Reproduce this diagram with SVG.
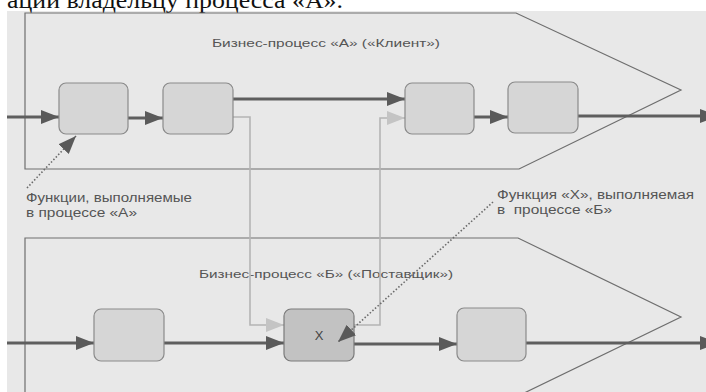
<svg xmlns="http://www.w3.org/2000/svg" width="706" height="392" viewBox="0 0 706 392">
<style>
.frame{fill:none;stroke:#6e6e6e;stroke-width:1.2}
.box{fill:#d6d6d6;stroke:#8a8a8a;stroke-width:1.2}
.boxx{fill:#c2c2c2;stroke:#7a7a7a;stroke-width:1.2}
.main{fill:none;stroke:#5e5e5e;stroke-width:3}
.aux{fill:none;stroke:#b4b4b4;stroke-width:1.6}
.dot{fill:none;stroke:#6a6a6a;stroke-width:1.6;stroke-dasharray:1.5 2}
.lbl{font-family:"Liberation Sans",Arial,sans-serif;font-size:11.5px;fill:#555}
.note{font-family:"Liberation Sans",Arial,sans-serif;font-size:12px;fill:#555}
.xl{font-family:"Liberation Sans",Arial,sans-serif;font-size:13px;fill:#444}
.page{font-family:"Liberation Serif","Times New Roman",serif;font-size:23px;fill:#111}
</style>
<defs>
<marker id="ah" viewBox="0 0 18 14" refX="18" refY="7" markerWidth="18" markerHeight="14" markerUnits="userSpaceOnUse" orient="auto"><path d="M0,0 L18,7 L0,14 Z" fill="#5a5a5a"/></marker>
<marker id="al" viewBox="0 0 18 14" refX="18" refY="7" markerWidth="18" markerHeight="14" markerUnits="userSpaceOnUse" orient="auto"><path d="M0,0 L18,7 L0,14 Z" fill="#c4c4c4"/></marker>
<marker id="ad" viewBox="0 0 18 14" refX="18" refY="7" markerWidth="18" markerHeight="14" markerUnits="userSpaceOnUse" orient="auto"><path d="M0,0 L18,7 L0,14 Z" fill="#5a5a5a"/></marker>
</defs>
<rect x="0" y="0" width="706" height="392" fill="#ffffff"/>
<rect x="7" y="11" width="699" height="381" fill="#e8e8e8"/>
<text class="page" x="7" y="8" textLength="336" lengthAdjust="spacingAndGlyphs">ации владельцу процесса «А».</text>

<g id="processA">
<path class="frame" d="M25,13 L516,13 L681,90 L519,169 L25,169 Z"/>
<text class="lbl" x="212" y="47" textLength="228" lengthAdjust="spacingAndGlyphs">Бизнес-процесс «А» («Клиент»)</text>
</g>
<g id="processB">
<path class="frame" d="M25,238 L518,238 L681,317 L518,396 L25,396 Z"/>
<text class="lbl" x="199" y="278" textLength="254" lengthAdjust="spacingAndGlyphs">Бизнес-процесс «Б» («Поставщик»)</text>
</g>

<g id="connectors">
<path class="aux" d="M233,117 H250 V325 H284" marker-end="url(#al)"/>
<path class="aux" d="M354,325 H380 V118 H405" marker-end="url(#al)"/>
<path class="main" d="M7,117 H59" marker-end="url(#ah)"/>
<path class="main" d="M128,118 H163" marker-end="url(#ah)"/>
<path class="main" d="M233,99 H405" marker-end="url(#ah)"/>
<path class="main" d="M474,117 H508" marker-end="url(#ah)"/>
<path class="main" d="M578,116 H718" marker-end="url(#ah)"/>
<path class="main" d="M7,343 H94" marker-end="url(#ah)"/>
<path class="main" d="M164,343 H284" marker-end="url(#ah)"/>
<path class="main" d="M354,344 H457" marker-end="url(#ah)"/>
<path class="main" d="M526,343 H718" marker-end="url(#ah)"/>
</g>

<g id="a1"><rect class="box" x="59" y="83" width="69" height="51" rx="7"/></g>
<g id="a2"><rect class="box" x="163" y="83" width="70" height="51" rx="7"/></g>
<g id="a3"><rect class="box" x="405" y="83" width="69" height="51" rx="7"/></g>
<g id="a4"><rect class="box" x="508" y="82" width="70" height="51" rx="7"/></g>
<g id="b1"><rect class="box" x="94" y="309" width="70" height="52" rx="7"/></g>
<g id="bx"><rect class="boxx" x="284" y="309" width="70" height="52" rx="7"/>
<text class="xl" x="319" y="340" text-anchor="middle">X</text></g>
<g id="b3"><rect class="box" x="457" y="308" width="69" height="53" rx="7"/></g>

<g id="pointers">
<path class="dot" d="M27,188 L76,136" marker-end="url(#ad)"/>
<path class="dot" d="M493,202 L338,342" marker-end="url(#ad)"/>
</g>

<g id="noteA">
<text class="note" x="26" y="202" textLength="166" lengthAdjust="spacingAndGlyphs">Функции, выполняемые</text>
<text class="note" x="26" y="217" textLength="111" lengthAdjust="spacingAndGlyphs">в процессе «А»</text>
</g>
<g id="noteX">
<text class="note" x="497" y="199" textLength="197" lengthAdjust="spacingAndGlyphs">Функция «X», выполняемая</text>
<text class="note" x="497" y="214" textLength="115" lengthAdjust="spacingAndGlyphs" xml:space="preserve">в  процессе «Б»</text>
</g>
</svg>
